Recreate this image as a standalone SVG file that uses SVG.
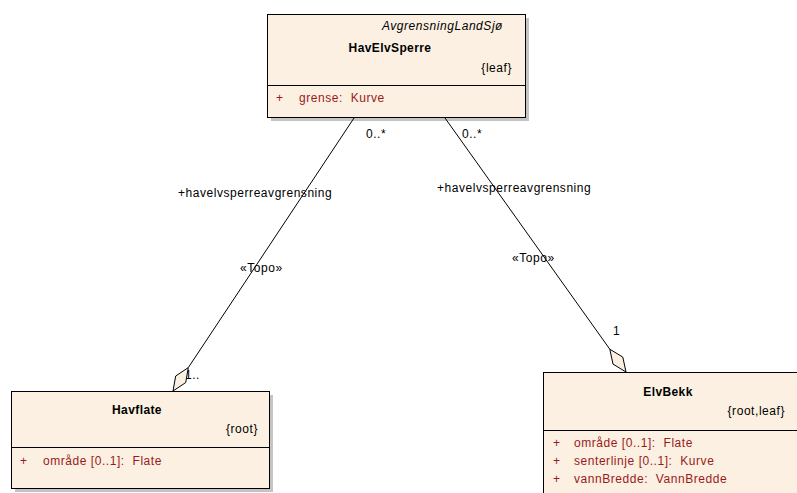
<svg xmlns="http://www.w3.org/2000/svg" width="797" height="493" viewBox="0 0 797 493">
<style>
text{font-family:"Liberation Sans",Arial,sans-serif;font-size:12px;letter-spacing:0.55px;fill:#000;white-space:pre}
.b{font-weight:bold;letter-spacing:0.4px}
.i{font-style:italic}
.a{fill:#9a1a1a}
.box{fill:#fbf0e2;stroke:#000;stroke-width:1}
.sh{fill:#c4c4c4}
.sep{stroke:#000;stroke-width:1}
.ln{stroke:#000;stroke-width:1;fill:none}
.dm{fill:#fbf0e2;stroke:#000;stroke-width:1}
</style>
<rect width="797" height="493" fill="#fff"/>
<g id="HavElvSperre">
<rect class="sh" x="271" y="18" width="258" height="103"/>
<rect class="box" x="267.5" y="14.5" width="258" height="103"/>
<line class="sep" x1="267.5" y1="85.5" x2="525.5" y2="85.5"/>
<text class="i" x="503" y="30" text-anchor="end">AvgrensningLandSjø</text>
<text class="b" x="390" y="52" text-anchor="middle">HavElvSperre</text>
<text x="512" y="72" text-anchor="end">{leaf}</text>
<text class="a" x="276" y="102">+</text>
<text class="a" x="299" y="102">grense:  Kurve</text>
</g>
<g id="Havflate">
<rect class="sh" x="15" y="395" width="258" height="97"/>
<rect class="box" x="11.5" y="391.5" width="258" height="97"/>
<line class="sep" x1="11.5" y1="447.5" x2="269.5" y2="447.5"/>
<text class="b" x="137" y="414" text-anchor="middle">Havflate</text>
<text x="258" y="433" text-anchor="end">{root}</text>
<text class="a" x="20" y="465">+</text>
<text class="a" x="43" y="465">område [0..1]:  Flate</text>
</g>
<g id="ElvBekk">
<rect class="sh" x="547" y="376" width="260" height="130"/>
<rect class="box" x="543.5" y="372.5" width="260" height="130"/>
<line class="sep" x1="543.5" y1="430.5" x2="803" y2="430.5"/>
<text class="b" x="668" y="396" text-anchor="middle">ElvBekk</text>
<text x="785" y="415" text-anchor="end">{root,leaf}</text>
<text class="a" x="553" y="447">+</text>
<text class="a" x="574" y="447">område [0..1]:  Flate</text>
<text class="a" x="553" y="465">+</text>
<text class="a" x="574" y="465">senterlinje [0..1]:  Kurve</text>
<text class="a" x="553" y="483">+</text>
<text class="a" x="574" y="483">vannBredde:  VannBredde</text>
</g>
<g id="connectors">
<line class="ln" x1="354" y1="118" x2="188.3" y2="367.6"/>
<text x="185" y="379">1..</text>
<polygon class="dm" points="188.3,367.6 185.7,382.6 173,391 175.7,376"/>
<text x="366" y="138">0..*</text>
<text x="178" y="197">+havelvsperreavgrensning</text>
<text x="240" y="272">«Topo»</text>
<line class="ln" x1="445" y1="118" x2="609.8" y2="349.2"/>
<polygon class="dm" points="609.8,349.2 622.8,357.1 626,372 613,364.1"/>
<text x="462" y="138">0..*</text>
<text x="437" y="192">+havelvsperreavgrensning</text>
<text x="512" y="262">«Topo»</text>
<text x="613" y="335">1</text>
</g>
</svg>
